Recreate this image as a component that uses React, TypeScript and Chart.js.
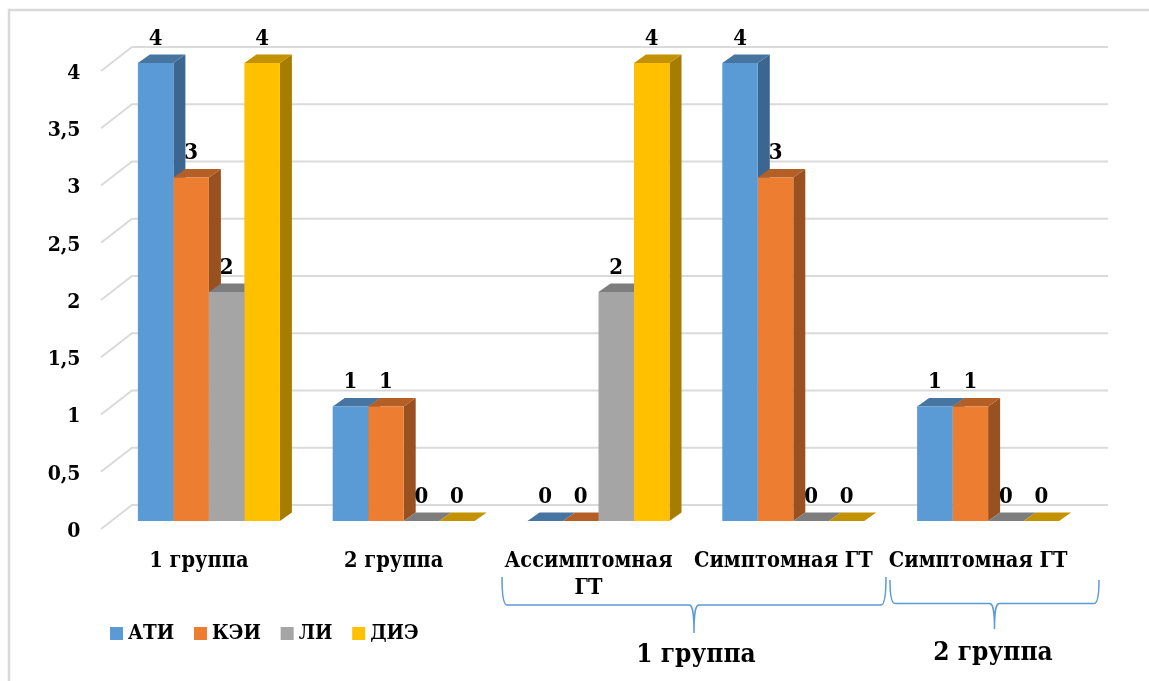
import React, { useEffect, useRef } from "react";
import { Chart, registerables } from "chart.js";

Chart.register(...registerables);

const categories: (string | string[])[] = ["1 группа", "2 группа", ["Ассимптомная", "ГТ"], "Симптомная ГТ", "Симптомная ГТ"];
const seriesNames = ["АТИ", "КЭИ", "ЛИ", "ДИЭ"];
const atiValues = [4, 1, 0, 4, 1];
const keiValues = [3, 1, 0, 3, 1];
const liValues = [2, 0, 2, 0, 0];
const dieValues = [4, 0, 4, 0, 0];
const seriesValues = [atiValues, keiValues, liValues, dieValues];
const frontColors = ["#5B9BD5", "#ED7D31", "#A5A5A5", "#FFC000"];
const topColors = ["#4675A1", "#B45F25", "#7D7D7D", "#C29200"];
const sideColors = ["#3C6690", "#99511F", "#6C6C6C", "#A67D00"];

const FONT = "'DejaVu Serif Condensed', 'DejaVu Serif', serif";
const W = 1149;
const H = 681;
const DX = 12;
const DY = 8.5;

function brace(ctx: CanvasRenderingContext2D, l: number, r: number, top: number, bottom: number, tip: number, mid: number) {
  ctx.beginPath();
  ctx.moveTo(l, top);
  ctx.bezierCurveTo(l, top + (bottom - top) * 0.55, l + 1, bottom, l + 5, bottom);
  ctx.lineTo(mid - 5, bottom);
  ctx.bezierCurveTo(mid - 2, bottom, mid, bottom + 4, mid, tip);
  ctx.bezierCurveTo(mid, bottom + 4, mid + 2, bottom, mid + 5, bottom);
  ctx.lineTo(r - 5, bottom);
  ctx.bezierCurveTo(r - 1, bottom, r, top + (bottom - top) * 0.55, r, top);
  ctx.stroke();
}

const scenePlugin = {
  id: "scene",
  beforeDatasetsDraw(chart: any) {
    const { ctx, scales } = chart;
    const y = scales.y;
    const x = scales.x;
    ctx.save();
    ctx.strokeStyle = "#D9D9D9";
    ctx.lineWidth = 2.5;
    ctx.beginPath();
    ctx.moveTo(9, H);
    ctx.lineTo(9, 10);
    ctx.lineTo(W, 10);
    ctx.stroke();
    ctx.lineWidth = 2;
    ctx.strokeStyle = "#DADADA";
    y.ticks.forEach((t: any) => {
      const py = y.getPixelForValue(t.value);
      ctx.beginPath();
      ctx.moveTo(x.left - 10.5, py + 8);
      ctx.lineTo(x.left + 20.5, py - 16);
      ctx.lineTo(1108, py - 16);
      ctx.stroke();
    });
    chart.data.datasets.forEach((_: any, di: number) => {
      const meta = chart.getDatasetMeta(di);
      meta.data.forEach((bar: any) => {
        const p = bar.getProps(["x", "y", "base", "width"], true);
        const x0 = p.x - p.width / 2;
        const x1 = p.x + p.width / 2;
        ctx.fillStyle = sideColors[di];
        ctx.beginPath();
        ctx.moveTo(x1, p.y);
        ctx.lineTo(x1 + DX, p.y - DY);
        ctx.lineTo(x1 + DX, p.base - DY);
        ctx.lineTo(x1, p.base);
        ctx.closePath();
        ctx.fill();
        ctx.fillStyle = topColors[di];
        ctx.beginPath();
        ctx.moveTo(x0, p.y);
        ctx.lineTo(x0 + DX, p.y - DY);
        ctx.lineTo(x1 + DX, p.y - DY);
        ctx.lineTo(x1, p.y);
        ctx.closePath();
        ctx.fill();
      });
    });
    ctx.restore();
  },
  afterDatasetsDraw(chart: any) {
    const { ctx } = chart;
    ctx.save();
    ctx.fillStyle = "#000";
    ctx.font = `bold 22px ${FONT}`;
    ctx.textAlign = "center";
    ctx.textBaseline = "middle";
    chart.data.datasets.forEach((ds: any, di: number) => {
      chart.getDatasetMeta(di).data.forEach((bar: any, i: number) => {
        ctx.fillText(String(ds.data[i]), bar.x, bar.y - 24);
      });
    });
    // legend row, built from the datasets
    ctx.textAlign = "left";
    ctx.font = `bold 20.5px ${FONT}`;
    let lx = 110;
    chart.data.datasets.forEach((ds: any) => {
      ctx.fillStyle = ds.backgroundColor;
      ctx.fillRect(lx, 627, 13, 13);
      ctx.fillStyle = "#000";
      ctx.fillText(ds.label, lx + 18, 634);
      lx += 18 + ctx.measureText(ds.label).width + 19.8;
    });
    // group braces
    ctx.textAlign = "center";
    ctx.strokeStyle = "#5B9BD5";
    ctx.lineWidth = 1.5;
    brace(ctx, 502, 886, 577, 605, 633, 694);
    brace(ctx, 890, 1099, 580, 603.5, 629, 994.5);
    ctx.fillStyle = "#000";
    ctx.font = `bold 26px ${FONT}`;
    ctx.fillText("1 группа", 696, 655);
    ctx.fillText("2 группа", 993, 653);
    ctx.restore();
  },
};

export default function App() {
  const ref = useRef<HTMLCanvasElement>(null);
  useEffect(() => {
    const chart = new Chart(ref.current as HTMLCanvasElement, {
      type: "bar",
      data: {
        labels: categories as any,
        datasets: seriesNames.map((name, i) => ({
          label: name,
          data: seriesValues[i],
          backgroundColor: frontColors[i],
          borderWidth: 0,
          barPercentage: 1,
          categoryPercentage: 0.729,
        })),
      },
      plugins: [scenePlugin],
      options: {
        animation: false,
        responsive: false,
        layout: { padding: { top: 63, right: 63.5, left: 0, bottom: 0 } },
        plugins: {
          title: { display: false },
          tooltip: { enabled: false },
          legend: { display: false },
        },
        scales: {
          x: {
            grid: { display: false },
            border: { display: false },
            afterFit: (s: any) => {
              s.height = 160;
            },
            ticks: {
              autoSkip: false,
              maxRotation: 0,
              minRotation: 0,
              padding: 18.5,
              labelOffset: -10,
              color: "#000",
              font: { family: FONT, size: 21.6, weight: "bold", lineHeight: 1.25 },
            },
          },
          y: {
            min: 0,
            max: 4,
            grid: { display: false },
            border: { display: false },
            afterFit: (s: any) => {
              s.width = 111.5;
            },
            ticks: {
              stepSize: 0.5,
              padding: 23,
              labelOffset: 10.5,
              color: "#000",
              font: { family: FONT, size: 21, weight: "bold" },
              callback: (v: any) => String(v).replace(".", ","),
            },
          },
        },
      },
    });
    return () => chart.destroy();
  }, []);
  return (
    <div style={{ position: "fixed", left: 0, top: 0, width: W, height: H, background: "#fff" }}>
      <canvas ref={ref} width={W} height={H} style={{ display: "block" }} />
    </div>
  );
}
